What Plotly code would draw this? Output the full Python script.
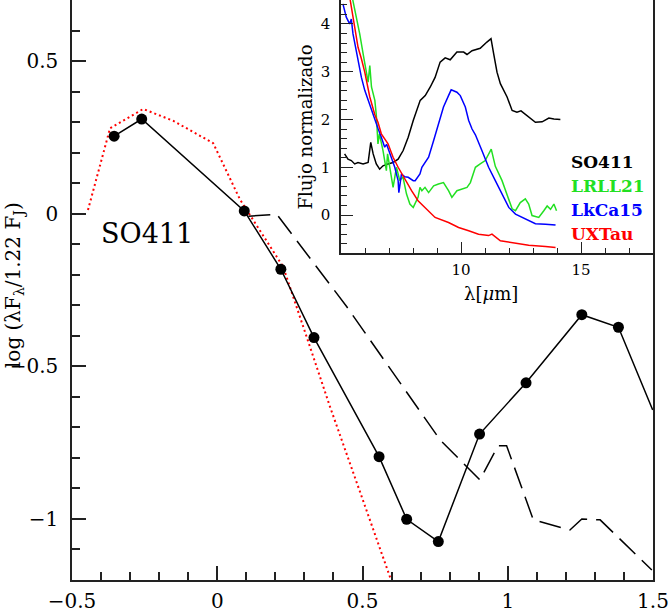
import plotly.graph_objects as go

# ---- main SED panel data ----
sed_x = [-0.355, -0.260, 0.093, 0.219, 0.333, 0.557, 0.652, 0.761, 0.903, 1.063, 1.255, 1.381, 1.499]
sed_y = [0.254, 0.310, 0.009, -0.182, -0.406, -0.796, -1.001, -1.074, -0.722, -0.554, -0.331, -0.372, -0.643]
sed_marked = [True] * 12 + [False]

phot_x = [-0.445, -0.369, -0.255, -0.151, -0.014, 0.078, 0.227, 0.388, 0.602]
phot_y = [0.012, 0.280, 0.343, 0.304, 0.231, 0.047, -0.174, -0.632, -1.21]

model_x = [0.107, 0.205, 0.446, 0.767, 0.904, 0.967, 0.996, 1.088, 1.214, 1.255, 1.318, 1.496]
model_y = [-0.008, -0.002, -0.305, -0.741, -0.872, -0.760, -0.760, -1.003, -1.036, -1.000, -1.003, -1.167]

main_xticks = [-0.5, 0, 0.5, 1, 1.5]
main_xlabels = ["\u22120.5", "0", "0.5", "1", "1.5"]
main_yticks = [-1, -0.5, 0, 0.5]
main_ylabels = ["\u22121", "\u22120.5", "0", "0.5"]

# ---- inset spectra ----
so411_x = [5.15, 5.29, 5.43, 5.57, 5.71, 5.92, 6.13, 6.24, 6.34, 6.47, 6.61, 6.75, 6.96, 7.17, 7.38,
           7.59, 7.80, 8.01, 8.30, 8.51, 8.72, 8.92, 9.13, 9.34, 9.55, 9.83, 10.11, 10.25, 10.46, 10.80,
           11.08, 11.25, 11.36, 11.50, 11.64, 11.92, 12.13, 12.33, 12.50, 12.82, 13.10, 13.38, 13.66,
           13.87, 14.14]
so411_y = [1.28, 1.17, 1.14, 1.07, 1.10, 1.07, 1.10, 1.52, 1.28, 1.07, 0.96, 1.03, 1.07, 1.10, 1.17,
           1.35, 1.63, 1.98, 2.40, 2.50, 2.68, 2.88, 3.20, 3.29, 3.25, 3.41, 3.41, 3.36, 3.44, 3.49,
           3.62, 3.69, 3.38, 2.99, 2.75, 2.47, 2.19, 2.15, 2.18, 2.05, 1.94, 1.95, 2.03,
           2.01, 2.00]

lkca15_x = [5.08, 5.22, 5.36, 5.43, 5.50, 5.64, 5.78, 5.85, 5.99, 6.13, 6.27, 6.41, 6.55, 6.68, 6.82,
            6.90, 7.10, 7.24, 7.38, 7.41, 7.52, 7.66, 7.80, 8.01, 8.09, 8.29, 8.37, 8.65, 8.86, 8.99,
            9.27, 9.48, 9.59, 9.83, 9.97, 10.18, 10.32, 10.46, 10.60, 10.87, 11.15, 11.43, 11.71,
            11.99, 12.27, 12.68, 13.10, 13.52, 13.94]
lkca15_y = [4.42, 4.14, 4.00, 4.10, 3.79, 3.44, 3.09, 2.88, 2.61, 2.40, 2.19, 2.01, 1.80, 1.63, 1.42,
            1.48, 1.21, 1.00, 0.72, 0.47, 0.86, 0.80, 0.79, 0.72, 0.72, 0.86, 1.00, 1.21, 1.56, 1.77,
            2.26, 2.50, 2.62, 2.57, 2.50, 2.26, 1.98, 1.80, 1.68, 1.35, 1.00, 0.72, 0.44,
            0.16, 0.02, -0.08, -0.18, -0.19, -0.21]

lrll21_x = [5.45, 5.64, 5.78, 5.92, 6.06, 6.13, 6.20, 6.27, 6.41, 6.47, 6.54, 6.60, 6.75, 6.89, 6.94,
            7.10, 7.17, 7.31, 7.45, 7.58, 7.73, 7.87, 8.01, 8.21, 8.29, 8.37, 8.50, 8.65, 8.86, 9.06,
            9.27, 9.48, 9.62, 9.83, 10.04, 10.25, 10.39, 10.60, 10.80, 11.01, 11.26, 11.43, 11.71,
            11.92, 12.13, 12.27, 12.47, 12.68, 12.82, 12.96, 13.24, 13.45, 13.59, 13.73, 13.87, 13.98]
lrll21_y = [4.60, 4.14, 3.79, 3.38, 3.03, 2.78, 3.13, 2.68, 2.40, 2.10, 1.49, 1.70, 1.35, 0.93, 1.28,
            0.79, 0.58, 1.00, 0.72, 0.80, 0.44, 0.23, 0.16, 0.37, 0.58, 0.51, 0.58, 0.47, 0.61, 0.65,
            0.68, 0.51, 0.37, 0.51, 0.54, 0.58, 0.68, 1.00, 1.07, 1.14, 1.38, 1.02, 0.72,
            0.44, 0.13, 0.09, 0.26, 0.34, 0.23, -0.01, -0.05, 0.09, 0.19, 0.12, 0.23, 0.09]

uxtau_x = [5.35, 5.71, 5.85, 5.99, 6.20, 6.41, 6.54, 6.68, 6.96, 7.17, 7.38, 7.66, 7.94, 8.21, 8.51,
           8.92, 9.48, 9.90, 10.32, 10.73, 11.15, 11.29, 11.64, 11.99, 12.82, 13.52, 13.94]
uxtau_y = [4.60, 3.51, 3.27, 2.99, 2.47, 2.10, 1.94, 1.70, 1.49, 1.21, 1.00, 0.75, 0.51, 0.30, 0.16,
           -0.05, -0.155, -0.26, -0.33, -0.40, -0.43, -0.40, -0.54, -0.57, -0.63, -0.66, -0.68]

legend_names = ["SO411", "LRLL21", "LkCa15", "UXTau"]
legend_colors = ["#000000", "#22e022", "#0000ff", "#ff0000"]
legend_y = [1.10, 0.61, 0.11, -0.39]

inset_xticks = [10, 15]
inset_yticks = [0, 1, 2, 3, 4]

SERIF = "DejaVu Serif"
AX = "#222222"

fig = go.Figure()

# main panel
fig.add_trace(go.Scatter(x=phot_x, y=phot_y, mode="lines",
                         line=dict(color="#ff0000", width=2, dash="2px,3px"),
                         xaxis="x", yaxis="y", showlegend=False))
fig.add_trace(go.Scatter(x=model_x, y=model_y, mode="lines",
                         line=dict(color="black", width=1.5, dash="22px,9px"),
                         xaxis="x", yaxis="y", showlegend=False))
fig.add_trace(go.Scatter(x=sed_x, y=sed_y, mode="lines+markers",
                         line=dict(color="black", width=1.5),
                         marker=dict(color="black", size=[11 if m else 0 for m in sed_marked],
                                     line=dict(width=0), opacity=1),
                         xaxis="x", yaxis="y", showlegend=False))

# inset
for xs, ys, c in [(so411_x, so411_y, legend_colors[0]),
                  (lrll21_x, lrll21_y, legend_colors[1]),
                  (lkca15_x, lkca15_y, legend_colors[2]),
                  (uxtau_x, uxtau_y, legend_colors[3])]:
    fig.add_trace(go.Scatter(x=xs, y=ys, mode="lines", line=dict(color=c, width=1.5),
                             xaxis="x2", yaxis="y2", showlegend=False))

axis_common = dict(showline=True, linecolor=AX, linewidth=1.5, mirror=True,
                   showgrid=False, zeroline=False, ticks="inside", tickcolor=AX,
                   automargin=False, ticklabeloverflow="allow")

fig.update_layout(
    width=668, height=608,
    margin=dict(l=72, r=15, t=0, b=28, pad=0),
    paper_bgcolor="white", plot_bgcolor="white",
    template="simple_white",
    xaxis=dict(domain=[0, 1], range=[-0.5, 1.5], anchor="y",
               tickvals=main_xticks, ticktext=main_xlabels, ticklen=14, tickwidth=1.5,
               minor=dict(dtick=0.1, tick0=0, ticklen=8, ticks="inside", tickcolor=AX, tickwidth=1.5),
               tickfont=dict(family=SERIF, size=20, color="black"), ticklabelstandoff=2,
               **axis_common),
    yaxis=dict(domain=[0, 1], range=[-1.2, 0.7], anchor="x",
               tickvals=main_yticks, ticktext=main_ylabels, ticklen=14, tickwidth=1.5,
               minor=dict(dtick=0.1, tick0=0, ticklen=8, ticks="inside", tickcolor=AX, tickwidth=1.5),
               tickfont=dict(family=SERIF, size=20, color="black"), ticklabelstandoff=8,
               **axis_common),
    xaxis2=dict(domain=[0.463, 1.0], range=[5, 18], anchor="y2",
                tickvals=inset_xticks, ticklen=12, tickwidth=1.2,
                minor=dict(dtick=1, tick0=5, ticklen=6, ticks="inside", tickcolor=AX, tickwidth=1.2),
                tickfont=dict(family=SERIF, size=15, color="black"), ticklabelstandoff=2,
                **axis_common),
    yaxis2=dict(domain=[0.5633, 1.0], range=[-0.8, 4.5], anchor="x2",
                tickvals=inset_yticks, ticklen=12, tickwidth=1.2,
                minor=dict(dtick=0.2, tick0=0, ticklen=6, ticks="inside", tickcolor=AX, tickwidth=1.2),
                tickfont=dict(family=SERIF, size=15, color="black"), ticklabelstandoff=6,
                **axis_common),
)

annotations = [
    dict(text="log (\u03bbF<sub>\u03bb</sub>/1.22 F<sub>J</sub>)", xref="paper", yref="paper",
         x=-0.0998, y=0.5086, xanchor="center", yanchor="middle", textangle=-90, showarrow=False,
         font=dict(family=SERIF, size=20, color="black")),
    dict(text="SO411", xref="x", yref="y", x=-0.242, y=-0.066, xanchor="center", yanchor="middle",
         showarrow=False, font=dict(family=SERIF, size=27, color="black")),
    dict(text="Flujo normalizado", xref="paper", yref="paper", x=0.401, y=0.782,
         xanchor="center", yanchor="middle", textangle=-90, showarrow=False,
         font=dict(family=SERIF, size=18, color="black")),
    dict(text="\u03bb[<i>\u03bc</i>m]", xref="paper", yref="paper", x=0.7212, y=0.4948,
         xanchor="center", yanchor="middle", showarrow=False,
         font=dict(family=SERIF, size=18, color="black")),
]
for name, c, ly in zip(legend_names, legend_colors, legend_y):
    annotations.append(dict(text="<b>%s</b>" % name, xref="x2", yref="y2", x=14.5, y=ly,
                            xanchor="left", yanchor="middle", showarrow=False,
                            font=dict(family=SERIF, size=17, color=c)))
fig.update_layout(annotations=annotations)

fig.write_html("out.html", config={"displayModeBar": False},
               post_script="document.body.style.margin='0';document.body.style.padding='0';")
